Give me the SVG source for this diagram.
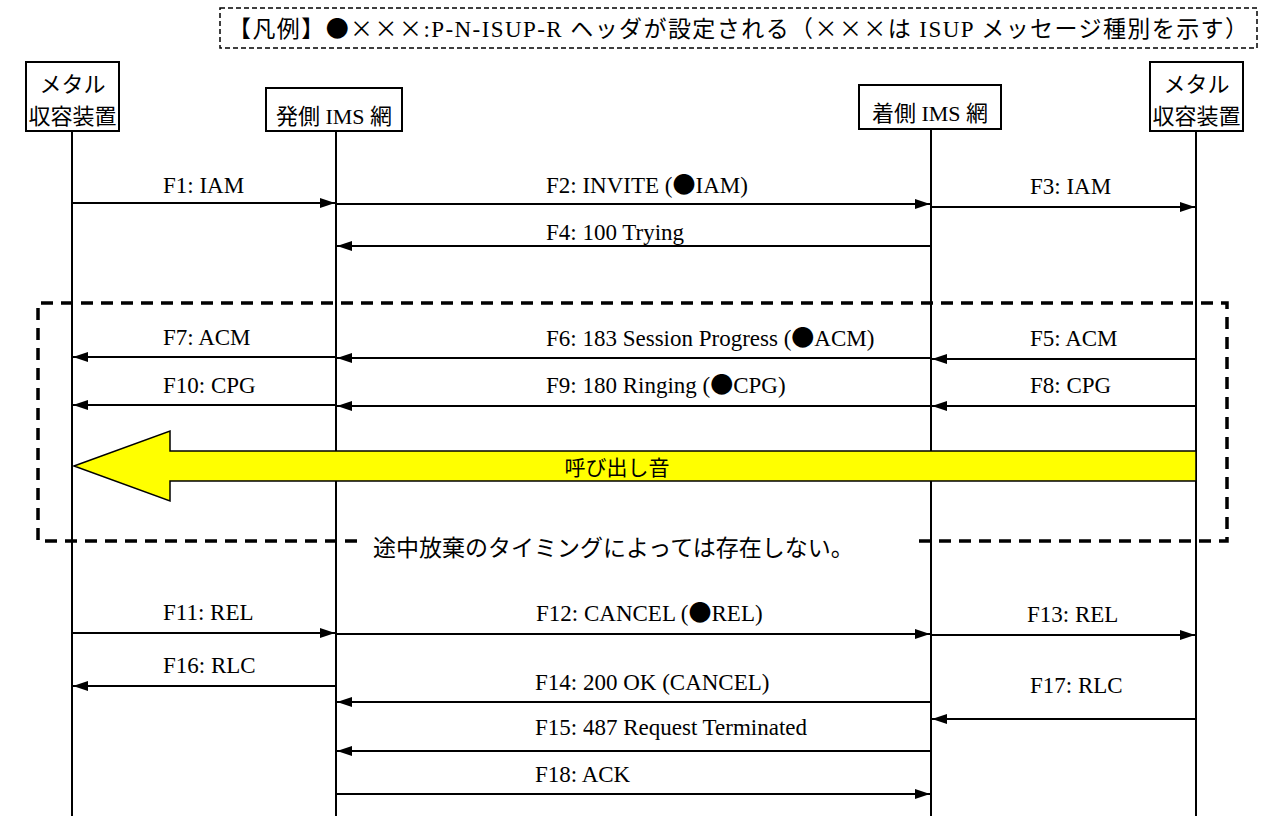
<svg xmlns="http://www.w3.org/2000/svg" width="1265" height="816" viewBox="0 0 1265 816">
<style>
.box{fill:#fff;stroke:#000;stroke-width:2}
.life{stroke:#000;stroke-width:2}
.nt{font-family:"Liberation Serif","Noto Sans CJK JP",serif;font-size:22px;fill:#000;text-anchor:middle}
.msg{stroke:#000;stroke-width:1.8;fill:none;marker-end:url(#ah)}
.lb{font-family:"Liberation Serif","Noto Sans CJK JP",serif;font-size:23px;fill:#000}
.cj{font-family:"Noto Sans CJK JP",sans-serif}
</style>
<defs>
<marker id="ah" markerWidth="15" markerHeight="10" refX="15" refY="5" orient="auto" markerUnits="userSpaceOnUse">
<path d="M0,0 L15,5 L0,10 z" fill="#000"/>
</marker>
</defs>
<rect width="1265" height="816" fill="#fff"/>

<g id="legend">
<rect x="220" y="8" width="1037" height="40" fill="#fff" stroke="#000" stroke-width="1.5" stroke-dasharray="5 3"/>
<text class="lb" x="228" y="37" style="font-size:23px" textLength="1020" lengthAdjust="spacing">【凡例】<tspan class="cj">●×××</tspan>:P-N-ISUP-R ヘッダが設定される（<tspan class="cj">×××</tspan>は ISUP メッセージ種別を示す）</text>
</g>

<g id="region">
<path d="M357,541 L38,541 L38,303 L1227,303 L1227,541 L912,541" fill="none" stroke="#000" stroke-width="3.5" stroke-dasharray="12 8"/>
<text x="373" y="556" font-family="Noto Sans CJK JP, sans-serif" font-size="23" fill="#000">途中放棄のタイミングによっては存在しない。</text>
</g>

<g id="node-left">
<line class="life" x1="72" y1="131" x2="72" y2="816"/>
<rect class="box" x="26" y="62" width="93" height="69"/>
<text class="nt" x="72.5" y="92">メタル</text>
<text class="nt" x="72.5" y="124">収容装置</text>
</g>
<g id="node-orig">
<line class="life" x1="336" y1="131" x2="336" y2="816"/>
<rect class="box" x="266" y="88" width="136" height="43"/>
<text class="nt" x="334" y="124">発側 IMS 網</text>
</g>
<g id="node-term">
<line class="life" x1="931" y1="129" x2="931" y2="816"/>
<rect class="box" x="859" y="85" width="142" height="44"/>
<text class="nt" x="930" y="121">着側 IMS 網</text>
</g>
<g id="node-right">
<line class="life" x1="1196" y1="131" x2="1196" y2="816"/>
<rect class="box" x="1150" y="62" width="93" height="69"/>
<text class="nt" x="1196.5" y="92">メタル</text>
<text class="nt" x="1196.5" y="124">収容装置</text>
</g>

<g id="ringback">
<polygon points="74,466 170,431 170,451 1196,451 1196,481 170,481 170,501" fill="#ffff00" stroke="#000" stroke-width="1.5" stroke-linejoin="miter"/>
<text x="617" y="475" font-family="Noto Sans CJK JP, sans-serif" font-size="21" fill="#000" text-anchor="middle">呼び出し音</text>
</g>

<g id="connectors">
<line class="msg" x1="72" y1="203" x2="335" y2="203"/>
<line class="msg" x1="336" y1="204" x2="930" y2="204"/>
<line class="msg" x1="931" y1="207" x2="1195" y2="207"/>
<line class="msg" x1="931" y1="246" x2="337" y2="246"/>
<line class="msg" x1="1196" y1="359" x2="932" y2="359"/>
<line class="msg" x1="931" y1="358" x2="337" y2="358"/>
<line class="msg" x1="336" y1="357" x2="73" y2="357"/>
<line class="msg" x1="1196" y1="406" x2="932" y2="406"/>
<line class="msg" x1="931" y1="406" x2="337" y2="406"/>
<line class="msg" x1="336" y1="405" x2="73" y2="405"/>
<line class="msg" x1="72" y1="633" x2="335" y2="633"/>
<line class="msg" x1="336" y1="634" x2="930" y2="634"/>
<line class="msg" x1="931" y1="635" x2="1195" y2="635"/>
<line class="msg" x1="336" y1="686" x2="73" y2="686"/>
<line class="msg" x1="931" y1="702" x2="337" y2="702"/>
<line class="msg" x1="1196" y1="719" x2="932" y2="719"/>
<line class="msg" x1="931" y1="751" x2="337" y2="751"/>
<line class="msg" x1="336" y1="794" x2="930" y2="794"/>

<text class="lb" x="163" y="193">F1: IAM</text>
<text class="lb" x="546" y="193">F2: INVITE (<tspan class="cj">●</tspan>IAM)</text>
<text class="lb" x="1030" y="194">F3: IAM</text>
<text class="lb" x="546" y="240">F4: 100 Trying</text>
<text class="lb" x="1030" y="346">F5: ACM</text>
<text class="lb" x="546" y="346">F6: 183 Session Progress (<tspan class="cj">●</tspan>ACM)</text>
<text class="lb" x="163" y="345">F7: ACM</text>
<text class="lb" x="1030" y="393">F8: CPG</text>
<text class="lb" x="546" y="393">F9: 180 Ringing (<tspan class="cj">●</tspan>CPG)</text>
<text class="lb" x="163" y="393">F10: CPG</text>
<text class="lb" x="163" y="620">F11: REL</text>
<text class="lb" x="536" y="621">F12: CANCEL (<tspan class="cj">●</tspan>REL)</text>
<text class="lb" x="1027" y="622">F13: REL</text>
<text class="lb" x="163" y="673">F16: RLC</text>
<text class="lb" x="535" y="690">F14: 200 OK (CANCEL)</text>
<text class="lb" x="1030" y="693">F17: RLC</text>
<text class="lb" x="535" y="735">F15: 487 Request Terminated</text>
<text class="lb" x="535" y="782">F18: ACK</text>
</g>
</svg>
